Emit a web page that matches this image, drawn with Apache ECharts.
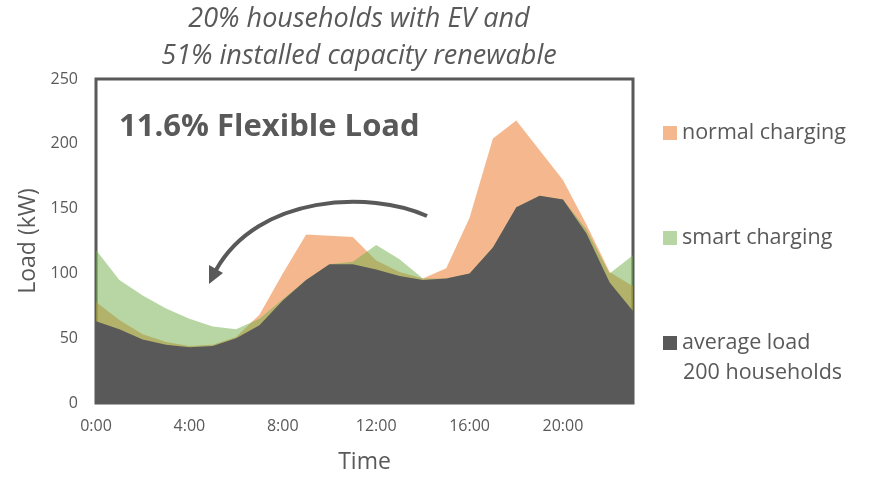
<!DOCTYPE html>
<html>
<head>
<meta charset="utf-8">
<script src="https://cdn.jsdelivr.net/npm/echarts@6/dist/echarts.min.js"></script>
<style>
  html, body { margin: 0; padding: 0; background: #fff; }
  #main { width: 873px; height: 479px; }
</style>
</head>
<body>
<div id="main"></div>
<script>
var hours = ['0:00','1:00','2:00','3:00','4:00','5:00','6:00','7:00','8:00','9:00','10:00','11:00',
             '12:00','13:00','14:00','15:00','16:00','17:00','18:00','19:00','20:00','21:00','22:00','23:00'];
var normalCharging = [78,64,53,47,44,45,51,68,100,130,129,128,110,101,96,104,143,204,218,195,172,138,101,90];
var smartCharging  = [118,95,83,73,65,59,57,65,80,95,107,109,122,111,96,96,100,120,150,160,157,134,100,114];
var averageLoad    = [63,57,49,45,43,44,50,60,79,95,107,107,103,98,95,96,100,120,151,160,157,131,93,71];

var txt = '#595959';
var font = 'Open Sans';

var myChart = echarts.init(document.getElementById('main'));

option = {
    animation: false,
    textStyle: { fontFamily: font, color: txt },
    grid: {
        left: 96, right: 240, top: 79, bottom: 76,
        outerBoundsMode: 'none',
        show: true, borderColor: txt, borderWidth: 3, backgroundColor: 'transparent'
    },
    legend: {
        orient: 'vertical',
        left: 663, top: 122,
        padding: 0,
        itemGap: 83,
        itemWidth: 14, itemHeight: 14,
        icon: 'rect',
        textStyle: { fontSize: 21.5, color: txt, fontFamily: font },
        data: ['normal charging', 'smart charging', 'average load']
    },
    xAxis: {
        type: 'category',
        boundaryGap: false,
        data: hours,
        name: 'Time',
        nameLocation: 'middle',
        nameGap: 48,
        nameTextStyle: { fontSize: 23, color: txt },
        axisLine: { show: false },
        axisTick: { show: false },
        axisLabel: { interval: 3, fontSize: 16, color: txt, margin: 15 }
    },
    yAxis: {
        type: 'value',
        min: 0, max: 250, interval: 50,
        name: 'Load (kW)',
        nameLocation: 'middle',
        nameGap: 50,
        nameTextStyle: { fontSize: 23, color: txt },
        splitLine: { show: false },
        axisLine: { show: false },
        axisTick: { show: false },
        axisLabel: { fontSize: 16, color: txt, margin: 18 }
    },
    series: [
        {
            name: 'normal charging', type: 'line', data: normalCharging,
            showSymbol: false, color: '#F5B78E',
            lineStyle: { width: 0 },
            areaStyle: { color: '#ED7D31', opacity: 0.55 }
        },
        {
            name: 'smart charging', type: 'line', data: smartCharging,
            showSymbol: false, color: '#B8D6A3',
            lineStyle: { width: 0 },
            areaStyle: { color: '#70AD47', opacity: 0.5 }
        },
        {
            name: 'average load', type: 'line', data: averageLoad,
            showSymbol: false, color: '#595959',
            lineStyle: { width: 0 },
            areaStyle: { color: '#595959', opacity: 1 }
        }
    ],
    graphic: [
        {
            type: 'text', x: 359, y: 1,
            style: {
                text: '20% households with EV and\n51% installed capacity renewable',
                font: 'italic 27px "Open Sans"', fill: txt, textAlign: 'center', lineHeight: 37
            }
        },
        {
            type: 'text', x: 119, y: 112,
            style: { text: '11.6% Flexible Load', font: 'bold 31px "Open Sans"', fill: txt }
        },
        {
            type: 'text', x: 683, y: 362,
            style: { text: '200 households', font: '21.5px "Open Sans"', fill: txt }
        },
        {
            type: 'bezierCurve',
            shape: { x1: 427, y1: 216, cpx1: 370, cpy1: 190, cpx2: 258, cpy2: 195, x2: 216, y2: 270 },
            style: { stroke: txt, lineWidth: 4, fill: null }
        },
        {
            type: 'polygon',
            shape: { points: [[209, 284], [223, 273], [209, 265]] },
            style: { fill: txt }
        }
    ]
};

myChart.setOption(option);
</script>
</body>
</html>
